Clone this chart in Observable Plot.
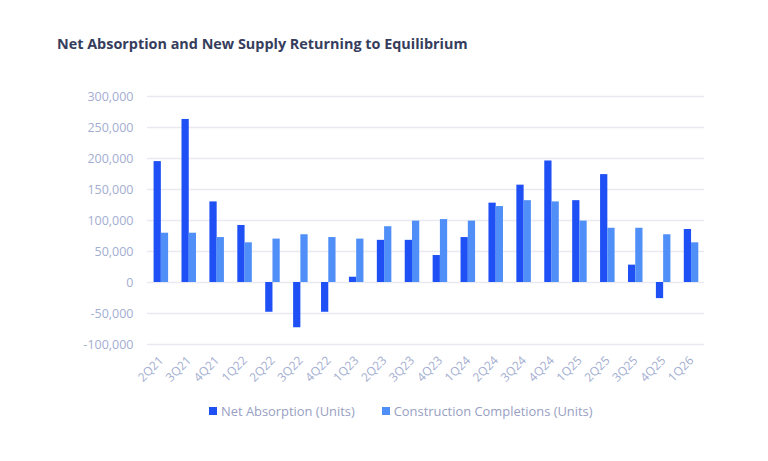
<!DOCTYPE html>
<html>
<head>
<meta charset="utf-8">
<script src="https://cdn.jsdelivr.net/npm/d3@7"></script>
<script src="https://cdn.jsdelivr.net/npm/@observablehq/plot@0.6"></script>
<style>
  html, body { margin: 0; padding: 0; background: #fff; }
  body { width: 768px; height: 461px; overflow: hidden; font-family: "Open Sans", sans-serif; }
  #title { position: absolute; left: 57px; top: 34px; font-size: 14.4px; font-weight: 700; color: #363d5c; white-space: nowrap; }
  #chart { position: absolute; left: 0; top: 70px; }
  #legend { position: absolute; left: 209px; top: 402px; display: flex; align-items: center; font-size: 12.9px; color: #98a0c2; white-space: nowrap; }
  .sw { display: inline-block; width: 8px; height: 8px; margin-right: 4px; }
  .item { display: flex; align-items: center; }
</style>
</head>
<body>
<div id="title">Net Absorption and New Supply Returning to Equilibrium</div>
<div id="chart"></div>
<div id="legend">
  <span class="item"><span class="sw" style="background:#1e50f5"></span>Net Absorption (Units)</span>
  <span class="item" style="margin-left:27px"><span class="sw" style="background:#4f8ff7"></span>Construction Completions (Units)</span>
</div>
<script>
const quarters = ["2Q21","3Q21","4Q21","1Q22","2Q22","3Q22","4Q22","1Q23","2Q23","3Q23","4Q23","1Q24","2Q24","3Q24","4Q24","1Q25","2Q25","3Q25","4Q25","1Q26"];
const netAbsorption = [195000,263000,130000,92000,-48000,-73000,-48000,8500,68000,68000,43500,72500,128000,157000,196000,132000,174000,28000,-26000,85500];
const completions = [79500,79500,72500,64000,70000,77000,72500,70000,90000,99000,101500,99000,122500,132000,130000,99000,87500,87500,77000,64000];
const yTicks = [-100000,-50000,0,50000,100000,150000,200000,250000,300000];

const W = 768, H = 324, ML = 147, MR = 64, MT = 26, MB = 50;
const pad = 0.48;
const xRange = [140.2, 711.7];
const step = (xRange[1] - xRange[0]) / (quarters.length + pad);
const bw = step * (1 - pad);

const rows = quarters.map((q, i) => ({q, net: netAbsorption[i], comp: completions[i]}));

const plot = Plot.plot({
  width: W, height: H,
  marginLeft: ML, marginRight: MR, marginTop: MT, marginBottom: MB,
  style: {fontFamily: "Open Sans, sans-serif", background: "#fff", overflow: "visible"},
  x: {domain: quarters, padding: pad, range: xRange, round: false, label: null},
  y: {domain: [-100000, 300000], label: null},
  marks: [
    Plot.ruleY(yTicks, {stroke: "#e9e9f2", strokeWidth: 1.3}),
    Plot.barY(rows, {x: "q", y: "net", fill: "#1e50f5", insetRight: bw / 2}),
    Plot.barY(rows, {x: "q", y: "comp", fill: "#4f8ff7", insetLeft: bw / 2}),
    Plot.axisY(yTicks, {tickSize: 0, tickPadding: 14, fontSize: 12.5, color: "#a3aed1", tickFormat: d => d.toLocaleString("en-US"), label: null}),
    Plot.axisX({tickSize: 0, tickPadding: 14, tickRotate: -45, fontSize: 12, color: "#a3aed1", label: null})
  ]
});
document.getElementById("chart").appendChild(plot);
</script>
</body>
</html>
